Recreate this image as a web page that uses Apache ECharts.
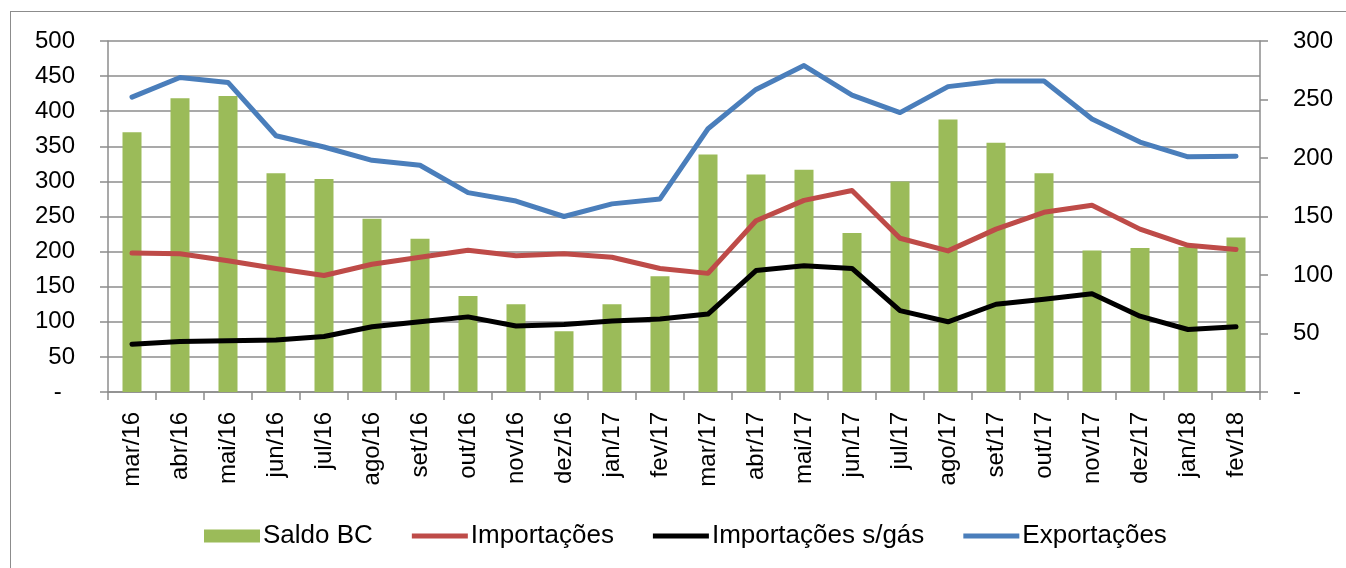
<!DOCTYPE html>
<html>
<head>
<meta charset="utf-8">
<script src="https://cdn.jsdelivr.net/npm/echarts@6/dist/echarts.min.js"></script>
<style>
  html, body { margin: 0; padding: 0; background: #fff; overflow: hidden; }
  #frame { position: absolute; left: 10px; top: 11px; width: 1400px; height: 620px; border: 1.5px solid #8c8c8c; box-sizing: border-box; }
  #chart { position: absolute; left: 0; top: 0; width: 1346px; height: 568px; }
</style>
</head>
<body>
<div id="frame"></div>
<div id="chart"></div>
<script>
// categorias (meses)
const months = ['mar/16','abr/16','mai/16','jun/16','jul/16','ago/16','set/16','out/16','nov/16','dez/16','jan/17','fev/17',
                'mar/17','abr/17','mai/17','jun/17','jul/17','ago/17','set/17','out/17','nov/17','dez/17','jan/18','fev/18'];

// eixo secundário (direita)
const saldoBC = [222, 251, 253, 187, 182, 148, 131, 82, 75, 52, 75, 99,
                 203, 186, 190, 136, 180, 233, 213, 187, 121, 123, 124, 132];

// eixo principal (esquerda)
const importacoes = [198, 197, 187, 176, 166, 182, 192, 202, 194, 197, 192, 176,
                     169, 244, 273, 287, 219, 201, 232, 256, 266, 232, 209, 203];
const importacoesSemGas = [68, 72, 73, 74, 79, 93, 100, 107, 94, 96, 101, 104,
                           111, 173, 180, 176, 116, 100, 125, 132, 140, 108, 89, 93];
const exportacoes = [420, 448, 441, 365, 349, 330, 323, 284, 272, 250, 268, 275,
                     375, 431, 465, 423, 398, 435, 443, 443, 389, 356, 335, 336];

const font = 'Liberation Sans';
const gridColor = '#8c8c8c';
const lineIcon = 'path://M0,0 L56,0 L56,5 L0,5 Z';

let chart = echarts.init(document.getElementById('chart'));

chart.setOption({
  animation: false,
  textStyle: { fontFamily: font, color: '#000' },
  grid: { left: 108, right: 86, top: 41, bottom: 176, containLabel: false },
  legend: {
    left: 204,
    top: 523,
    padding: 0,
    itemWidth: 56,
    itemHeight: 13,
    itemGap: 39,
    textStyle: { fontFamily: font, fontSize: 26, color: '#000', padding: [0, 0, 0, -2] },
    data: [
      { name: 'Saldo BC', icon: 'rect' },
      { name: 'Importações', icon: lineIcon },
      { name: 'Importações s/gás', icon: lineIcon },
      { name: 'Exportações', icon: lineIcon }
    ]
  },
  xAxis: {
    type: 'category',
    data: months,
    boundaryGap: true,
    axisLine: { lineStyle: { color: gridColor, width: 1.5 } },
    axisTick: { show: true, length: 8, lineStyle: { color: gridColor, width: 1.5 } },
    axisLabel: { rotate: 90, fontSize: 24, margin: 20, color: '#000', interval: 0 }
  },
  yAxis: [
    {
      type: 'value',
      min: 0, max: 500, interval: 50,
      axisLine: { show: true, lineStyle: { color: gridColor, width: 1.5 } },
      axisTick: { show: true, length: 8, lineStyle: { color: gridColor, width: 1.5 } },
      splitLine: { show: true, lineStyle: { color: gridColor, width: 1.5 } },
      axisLabel: {
        fontSize: 24, margin: 33, color: '#000',
        formatter: function (v) { return v === 0 ? '-  ' : String(v); }
      }
    },
    {
      type: 'value',
      min: 0, max: 300, interval: 50,
      position: 'right',
      axisLine: { show: true, lineStyle: { color: gridColor, width: 1.5 } },
      axisTick: { show: true, length: 8, lineStyle: { color: gridColor, width: 1.5 } },
      splitLine: { show: false },
      axisLabel: {
        fontSize: 24, margin: 33, color: '#000',
        formatter: function (v) { return v === 0 ? '-' : String(v); }
      }
    }
  ],
  series: [
    {
      name: 'Saldo BC', type: 'bar', yAxisIndex: 1,
      data: saldoBC, barWidth: 19,
      itemStyle: { color: '#9bbb59' }
    },
    {
      name: 'Importações', type: 'line', yAxisIndex: 0,
      data: importacoes, symbol: 'none',
      lineStyle: { color: '#be4b48', width: 5, cap: 'round', join: 'round' },
      itemStyle: { color: '#be4b48' }
    },
    {
      name: 'Importações s/gás', type: 'line', yAxisIndex: 0,
      data: importacoesSemGas, symbol: 'none',
      lineStyle: { color: '#000000', width: 5, cap: 'round', join: 'round' },
      itemStyle: { color: '#000000' }
    },
    {
      name: 'Exportações', type: 'line', yAxisIndex: 0,
      data: exportacoes, symbol: 'none',
      lineStyle: { color: '#4a7ebb', width: 5, cap: 'round', join: 'round' },
      itemStyle: { color: '#4a7ebb' }
    }
  ]
});
</script>
</body>
</html>
